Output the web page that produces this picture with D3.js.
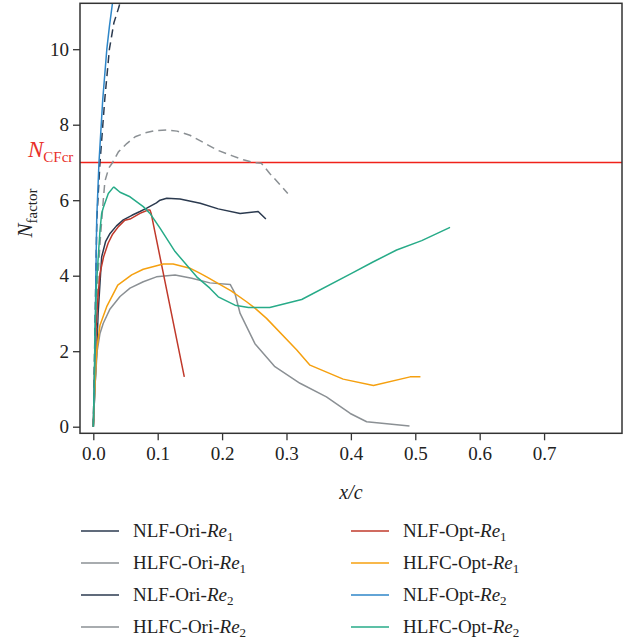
<!DOCTYPE html>
<html>
<head>
<meta charset="utf-8">
<script src="https://cdn.jsdelivr.net/npm/d3@7"></script>
<style>
  html, body { margin: 0; padding: 0; background: #fff; }
  svg { display: block; }
  text { font-family: "Liberation Serif", "Times New Roman", serif; }
</style>
</head>
<body>
<svg id="chart" width="625" height="642"></svg>
<script>
// ---------------- data ----------------
const xTicks = [0, 0.1, 0.2, 0.3, 0.4, 0.5, 0.6, 0.7];
const yTicks = [0, 2, 4, 6, 8, 10];
const nCFcr = 7;

const nlfOriRe1 = [[0,0],[0.0025,1],[0.0053,2],[0.0075,3],[0.0104,3.8],[0.013,4.5],[0.019,4.9],[0.026,5.12],[0.036,5.32],[0.0466,5.48],[0.06,5.6],[0.0725,5.70],[0.083,5.79],[0.098,5.93],[0.1036,6.0],[0.114,6.05],[0.1346,6.03],[0.166,5.92],[0.194,5.77],[0.228,5.65],[0.256,5.70],[0.268,5.50]];
const hlfcOriRe1 = [[0,0],[0.003,1.2],[0.006,2.0],[0.0104,2.47],[0.0155,2.74],[0.026,3.12],[0.0415,3.45],[0.057,3.67],[0.0776,3.84],[0.098,3.97],[0.127,4.02],[0.153,3.93],[0.181,3.81],[0.2126,3.77],[0.22,3.53],[0.228,3.0],[0.251,2.2],[0.282,1.59],[0.321,1.15],[0.362,0.79],[0.399,0.35],[0.4245,0.13],[0.491,0.02]];
const nlfOriRe2 = [[0,0],[0.002,2],[0.004,4],[0.0055,5.5],[0.0104,7],[0.0177,8.65],[0.025,10],[0.032,10.7],[0.040,11.13],[0.043,11.35]];
const hlfcOriRe2 = [[0,0],[0.002,1],[0.004,2],[0.0073,4],[0.011,5],[0.0155,6],[0.018,6.5],[0.024,6.85],[0.030,7.0],[0.039,7.28],[0.052,7.5],[0.065,7.68],[0.08,7.78],[0.095,7.84],[0.114,7.86],[0.13,7.83],[0.150,7.72],[0.172,7.52],[0.192,7.33],[0.215,7.18],[0.233,7.07],[0.248,7.0],[0.261,6.98],[0.274,6.71],[0.302,6.18]];
const nlfOptRe1 = [[0,0],[0.002,1.5],[0.0042,2.6],[0.007,3.4],[0.0104,4.06],[0.016,4.5],[0.023,4.86],[0.030,5.1],[0.039,5.30],[0.049,5.47],[0.057,5.50],[0.0725,5.65],[0.085,5.74],[0.088,5.74],[0.090,5.64],[0.1413,1.32]];
const hlfcOptRe1 = [[0,0],[0.0026,1.15],[0.0053,2.03],[0.0104,2.69],[0.0208,3.18],[0.038,3.75],[0.0596,4.02],[0.0776,4.17],[0.1087,4.31],[0.124,4.31],[0.150,4.2],[0.166,4.06],[0.176,3.97],[0.214,3.6],[0.238,3.31],[0.251,3.14],[0.269,2.87],[0.316,2.03],[0.3365,1.63],[0.388,1.26],[0.435,1.09],[0.492,1.32],[0.508,1.32]];
const nlfOptRe2 = [[0,0],[0.0015,1],[0.0026,2],[0.004,4],[0.0053,5.5],[0.0088,7],[0.0146,8.65],[0.021,10],[0.025,10.6],[0.030,11.25],[0.034,11.6]];
const hlfcOptRe2 = [[0,0],[0.0015,1.2],[0.0026,2.47],[0.005,3.8],[0.0104,5.2],[0.013,5.65],[0.0155,5.8],[0.0233,6.18],[0.031,6.34],[0.0326,6.34],[0.0415,6.21],[0.057,6.09],[0.0776,5.83],[0.088,5.65],[0.1036,5.26],[0.127,4.64],[0.1606,3.97],[0.166,3.89],[0.181,3.67],[0.194,3.44],[0.220,3.22],[0.241,3.16],[0.274,3.16],[0.3236,3.37],[0.401,4.06],[0.435,4.37],[0.471,4.68],[0.510,4.93],[0.554,5.28]];

const seriesNames = ["NLF-Ori-", "HLFC-Ori-", "NLF-Ori-", "HLFC-Ori-", "NLF-Opt-", "HLFC-Opt-", "NLF-Opt-", "HLFC-Opt-"];
const seriesRe = ["1", "1", "2", "2", "1", "1", "2", "2"];
const seriesData = [nlfOriRe1, hlfcOriRe1, nlfOriRe2, hlfcOriRe2, nlfOptRe1, hlfcOptRe1, nlfOptRe2, hlfcOptRe2];
const seriesColors = ["#2b3a4f", "#8b9094", "#2b3a4f", "#8b9094", "#c0392b", "#f5a00f", "#2e86c8", "#27ab88"];
const seriesDash = [null, null, "8,5", "8,5", null, null, null, null];

// ---------------- layout ----------------
const W = 625, H = 642;
const plot = { left: 80, right: 622, top: 3.3, bottom: 433.3 };
const svg = d3.select("#chart");

const x = d3.scaleLinear().domain([-0.02065, 0.821]).range([plot.left, plot.right]);
const y = d3.scaleLinear().domain([-0.1748, 11.216]).range([plot.bottom, plot.top]);

svg.append("defs").append("clipPath").attr("id", "clip")
  .append("rect").attr("x", plot.left).attr("y", plot.top)
  .attr("width", plot.right - plot.left).attr("height", plot.bottom - plot.top);

// axes
const xAxis = d3.axisBottom(x).tickValues(xTicks).tickFormat(d3.format(".1f")).tickSize(7).tickPadding(6);
const gx = svg.append("g").attr("transform", `translate(0,${plot.bottom})`).call(xAxis);
gx.select(".domain").remove();
gx.selectAll("line").attr("stroke", "#333").attr("stroke-width", 1.3);
gx.selectAll("text").attr("fill", "#222").style("font-size", "19px").attr("font-family", "Liberation Serif");

const yAxis = d3.axisLeft(y).tickValues(yTicks).tickSize(7).tickPadding(4);
const gy = svg.append("g").attr("transform", `translate(${plot.left},0)`).call(yAxis);
gy.select(".domain").remove();
gy.selectAll("line").attr("stroke", "#333").attr("stroke-width", 1.3);
gy.selectAll("text").attr("fill", "#222").style("font-size", "19px").attr("font-family", "Liberation Serif");

// critical line
svg.append("line")
  .attr("x1", plot.left).attr("x2", plot.right)
  .attr("y1", y(nCFcr)).attr("y2", y(nCFcr))
  .attr("stroke", "#f0221a").attr("stroke-width", 1.5);

// series lines
const line = d3.line().x(d => x(d[0])).y(d => y(d[1]));
const gLines = svg.append("g").attr("clip-path", "url(#clip)");
seriesData.forEach((data, i) => {
  gLines.append("path")
    .datum(data)
    .attr("d", line)
    .attr("fill", "none")
    .attr("stroke", seriesColors[i])
    .attr("stroke-width", 1.5)
    .attr("stroke-linejoin", "round")
    .attr("stroke-dasharray", seriesDash[i]);
});

// frame
svg.append("rect")
  .attr("x", plot.left).attr("y", plot.top)
  .attr("width", plot.right - plot.left).attr("height", plot.bottom - plot.top)
  .attr("fill", "none").attr("stroke", "#333").attr("stroke-width", 1.5);

// N_CFcr label
const ncf = svg.append("text").attr("x", 28).attr("y", 157).attr("fill", "#e8302a");
ncf.append("tspan").text("N").style("font-style", "italic").style("font-size", "23px");
ncf.append("tspan").text("CFcr").attr("dy", 5).style("font-size", "15px");

// y-axis title
const yt = svg.append("text")
  .attr("transform", "translate(32,213) rotate(-90)")
  .attr("text-anchor", "middle").attr("fill", "#222");
yt.append("tspan").text("N").style("font-style", "italic").style("font-size", "21px");
yt.append("tspan").text("factor").attr("dy", 5).style("font-size", "15px");

// x-axis title
svg.append("text").attr("x", 351).attr("y", 499).attr("text-anchor", "middle")
  .attr("fill", "#222").style("font-style", "italic").style("font-size", "20px").text("x/c");

// legend
const legRows = [531, 563, 595, 627];
const legCols = [{ x1: 81, x2: 119, tx: 133 }, { x1: 351, x2: 389, tx: 403 }];
seriesData.forEach((d, i) => {
  const col = legCols[Math.floor(i / 4)];
  const ry = legRows[i % 4];
  svg.append("line")
    .attr("x1", col.x1).attr("x2", col.x2).attr("y1", ry).attr("y2", ry)
    .attr("stroke", seriesColors[i]).attr("stroke-width", 2).attr("stroke-opacity", 0.75);
  const t = svg.append("text").attr("x", col.tx).attr("y", ry + 6).attr("fill", "#222").style("font-size", "19px");
  t.append("tspan").text(seriesNames[i]);
  t.append("tspan").text("Re").style("font-style", "italic");
  t.append("tspan").text(seriesRe[i]).attr("dy", 4).style("font-size", "13px");
});
</script>
</body>
</html>
